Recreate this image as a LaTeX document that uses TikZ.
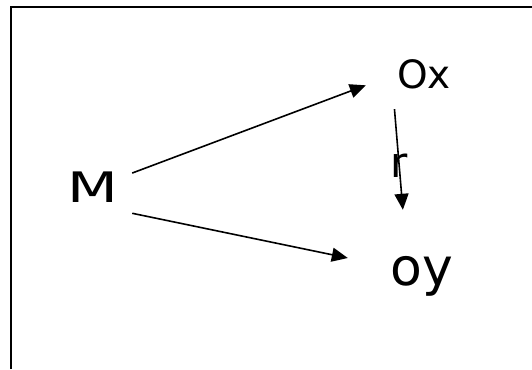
\documentclass[tikz,border=0pt]{standalone}
\usepackage{fontspec}
\setmainfont{DejaVu Sans}
\usepackage{graphicx}
\usetikzlibrary{arrows.meta}

\tikzset{
  var/.style={inner sep=0pt},
  arr/.style={-{Triangle[length=16pt,width=14pt]}, line width=1.6pt},
}

\begin{document}
\begin{tikzpicture}[x=1pt,y=-1pt]
\useasboundingbox (0,0) rectangle (532,369);

\draw[line width=2pt] (11,369) -- (11,7) -- (532,7);

\node[var, minimum width=79pt, minimum height=54pt, font=\fontsize{42}{48}\selectfont] (M) at (92.5,187.5) {\scalebox{1.4}[1]{M}};
\node[var, minimum width=116pt, minimum height=70pt, font=\fontsize{39}{44}\selectfont] (Ox) at (424,74) {Ox};
\node[var, minimum width=148pt, minimum height=133pt, font=\fontsize{52}{58}\selectfont] (oy) at (422,276.5) {oy};

\draw[arr] (M.20) -- (Ox.191);
\draw[arr] (M.-33) -- (oy.166);
\draw[arr] (Ox.230) -- (oy.106) node[pos=0.56, font=\fontsize{42}{48}\selectfont] (r) {r};

\end{tikzpicture}
\end{document}
